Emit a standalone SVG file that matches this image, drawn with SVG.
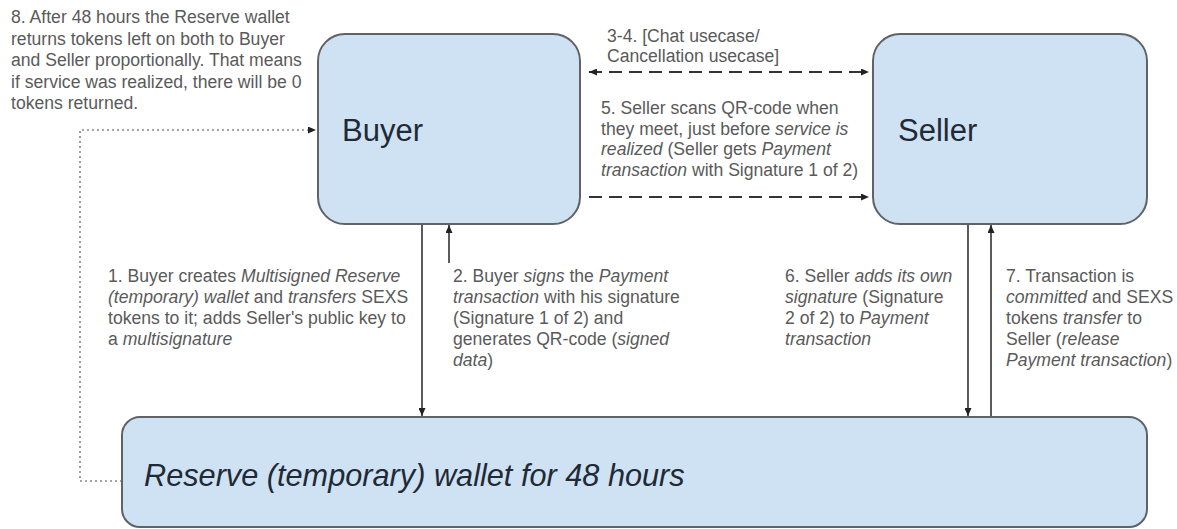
<svg xmlns="http://www.w3.org/2000/svg" width="1177" height="529" viewBox="0 0 1177 529">
<style>
.box{fill:#cfe2f3;stroke:#5f6368;stroke-width:2}
.lbl{font-family:"Liberation Sans",Arial,sans-serif;font-size:31px;fill:#1f2a36}
.note{font-family:"Liberation Sans",Arial,sans-serif;font-size:17.6px;fill:#5a5a5a}
.it{font-style:italic}
.solid{stroke:#333;stroke-width:1.6;fill:none}
.dash{stroke:#333;stroke-width:2;fill:none;stroke-dasharray:13 7}
.dot{stroke:#888;stroke-width:1.6;fill:none;stroke-dasharray:2 3}
</style>
<defs>
<marker id="ah" viewBox="0 0 8 7" refX="8" refY="3.5" markerWidth="8" markerHeight="7" markerUnits="userSpaceOnUse" orient="auto-start-reverse">
<path d="M0,0 L8,3.5 L0,7 z" fill="#222"/>
</marker>
</defs>
<rect width="1177" height="529" fill="#ffffff"/>
<g id="connectors">
<line class="solid" x1="422" y1="224" x2="422" y2="416" marker-end="url(#ah)"/>
<line class="solid" x1="449" y1="263" x2="449" y2="225" marker-end="url(#ah)"/>
<line class="dash" x1="589" y1="72" x2="869" y2="72" marker-start="url(#ah)" marker-end="url(#ah)"/>
<line class="dash" x1="589" y1="197" x2="869" y2="197" marker-end="url(#ah)"/>
<line class="solid" x1="968" y1="224" x2="968" y2="416" marker-end="url(#ah)"/>
<line class="solid" x1="991" y1="416" x2="991" y2="225" marker-end="url(#ah)"/>
<polyline class="dot" points="122,481 80,481 80,130 316,130" marker-end="url(#ah)"/>
</g>
<g id="buyer">
<rect class="box" x="318" y="34" width="262" height="190" rx="27"/>
<text class="lbl" x="342" y="141">Buyer</text>
</g>
<g id="seller">
<rect class="box" x="873" y="34" width="274" height="190" rx="27"/>
<text class="lbl" x="898" y="141">Seller</text>
</g>
<g id="reserve">
<rect class="box" x="122" y="417" width="1025" height="110" rx="18"/>
<text class="lbl it" x="144" y="486" style="font-size:30.7px">Reserve (temporary) wallet for 48 hours</text>
</g>
<g id="labels">
<text class="note">
<tspan x="11" y="23">8. After 48 hours the Reserve wallet</tspan>
<tspan x="11" y="44.5">returns tokens left on both to Buyer</tspan>
<tspan x="11" y="66">and Seller proportionally. That means</tspan>
<tspan x="11" y="87.5">if service was realized, there will be 0</tspan>
<tspan x="11" y="109">tokens returned.</tspan>
</text>
<text class="note">
<tspan x="607" y="42">3-4. [Chat usecase/</tspan>
<tspan x="607" y="62">Cancellation usecase]</tspan>
</text>
<text class="note">
<tspan x="601" y="114">5. Seller scans QR-code when</tspan>
<tspan x="601" y="134.5">they meet, just before <tspan class="it">service is</tspan></tspan>
<tspan x="601" y="155"><tspan class="it">realized</tspan> (Seller gets <tspan class="it">Payment</tspan></tspan>
<tspan x="601" y="175.5"><tspan class="it">transaction</tspan> with Signature 1 of 2)</tspan>
</text>
<text class="note">
<tspan x="108" y="282">1. Buyer creates <tspan class="it">Multisigned Reserve</tspan></tspan>
<tspan x="108" y="303"><tspan class="it">(temporary) wallet</tspan> and <tspan class="it">transfers</tspan> SEXS</tspan>
<tspan x="108" y="324">tokens to it; adds Seller's public key to</tspan>
<tspan x="108" y="345">a <tspan class="it">multisignature</tspan></tspan>
</text>
<text class="note">
<tspan x="453" y="282">2. Buyer <tspan class="it">signs</tspan> the <tspan class="it">Payment</tspan></tspan>
<tspan x="453" y="303"><tspan class="it">transaction</tspan> with his signature</tspan>
<tspan x="453" y="324">(Signature 1 of 2) and</tspan>
<tspan x="453" y="345">generates QR-code (<tspan class="it">signed</tspan></tspan>
<tspan x="453" y="366"><tspan class="it">data</tspan>)</tspan>
</text>
<text class="note">
<tspan x="785" y="282">6. Seller <tspan class="it">adds its own</tspan></tspan>
<tspan x="785" y="303"><tspan class="it">signature</tspan> (Signature</tspan>
<tspan x="785" y="324">2 of 2) to <tspan class="it">Payment</tspan></tspan>
<tspan x="785" y="345"><tspan class="it">transaction</tspan></tspan>
</text>
<text class="note">
<tspan x="1006" y="282">7. Transaction is</tspan>
<tspan x="1006" y="303"><tspan class="it">committed</tspan> and SEXS</tspan>
<tspan x="1006" y="324">tokens <tspan class="it">transfer</tspan> to</tspan>
<tspan x="1006" y="345">Seller (<tspan class="it">release</tspan></tspan>
<tspan x="1006" y="366"><tspan class="it">Payment transaction</tspan>)</tspan>
</text>
</g>
</svg>
